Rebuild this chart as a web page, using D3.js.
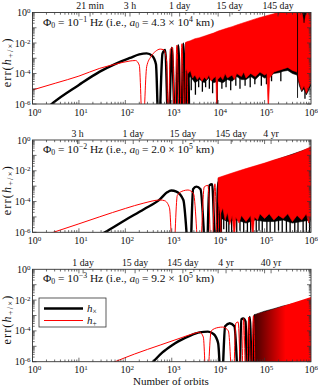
<!DOCTYPE html>
<html><head><meta charset="utf-8">
<script src="https://cdn.jsdelivr.net/npm/d3@7"></script>
<style>
html,body{margin:0;padding:0;background:#fff;}
svg text{font-family:"Liberation Serif","DejaVu Serif",serif;fill:#111;}
</style></head>
<body><svg id="c" width="318" height="387"></svg>
<script>
// ---------- DATA (log10 values) ----------
const xTickExps = [0,1,2,3,4,5,6];
const yTickExps = [0,-2,-4,-6];
const freqExps = [-1,-2,-3];
const a0Mant = ["4.3","2.0","9.2"];
const a0Exps = [4,5,5];

const topLabels1 = ["21 min","3 h","1 day","15 day","145 day"];
const topPos1 = [1.24,2.10,3.17,4.25,5.29];
const topLabels2 = ["3 h","1 day","15 day","145 day","4 yr"];
const topPos2 = [0.97,2.17,3.24,4.28,5.14];
const topLabels3 = ["1 day","15 day","145 day","4 yr","40 yr"];
const topPos3 = [1.09,2.21,3.24,4.17,5.14];

// Panel 1 (Phi0 = 1e-1 Hz)
const black1 = [[0.30,-6.3],[0.44,-5.93],[1.0,-4.75],[1.45,-3.88],[1.8,-3.35],[2.1,-2.98],[2.3,-2.75],[2.46,-2.68],[2.58,-2.85],[2.66,-3.4],[2.72,-8],
 [2.8,-2.7],[2.86,-2.45],[2.93,-8],[3.0,-2.3],[3.08,-8],[3.14,-2.15],[3.2,-8],[3.25,-2.05],[3.3,-8],[3.34,-2.0],[3.38,-8]];
const red1 = [[0,-5.08],[0.5,-4.63],[1.0,-4.17],[1.45,-3.66],[1.8,-3.38],[2.1,-3.18],[2.22,-3.15],[2.3,-3.45],[2.375,-8],[2.46,-3.55],[2.55,-2.9],[2.65,-2.55],[2.75,-2.4],[2.83,-2.45],[2.89,-3.2],[2.92,-8],
 [2.97,-2.4],[3.02,-2.3],[3.06,-8],[3.11,-2.15],[3.17,-8],[3.22,-2.05],[3.27,-8],[3.31,-1.98],[3.35,-8]];
const red1Top = [[3.3,-1.95],[3.4,-1.85],[3.5,-1.72],[3.6,-1.65],[3.7,-1.55],[3.8,-1.45],[3.9,-1.35],[4.0,-1.22],[4.1,-1.12],[4.2,-1.02],[4.3,-0.93],[4.4,-0.82],[4.5,-0.72],[4.6,-0.62],[4.7,-0.52],[4.8,-0.42],[4.9,-0.33],[5.0,-0.25],[5.1,-0.16],[5.2,-0.08],[5.29,0],[5.4,0.1],[5.79,0.2],[5.85,-0.68],[5.92,0.2],[6.0,0.2]];
const red1Bot = [[3.3,-3.6],[3.35,-4.0],[3.4,-3.8],[3.45,-4.3],[3.5,-4.1],[3.55,-4.4],[3.6,-4.2],[3.65,-4.5],[3.7,-4.25],[3.75,-4.4],[3.8,-4.1],[3.85,-4.5],[3.9,-4.3],[3.95,-4.2],[3.97,-6.5],[3.99,-4.4],[4.05,-4.2],[4.1,-4.4],[4.15,-4.0],[4.2,-4.3],[4.3,-4.1],[4.35,-4.4],[4.4,-4.0],[4.5,-4.2],[4.55,-3.9],[4.6,-4.3],[4.7,-4.0],[4.8,-4.2],[4.9,-3.9],[5.0,-4.1],[5.05,-4.0],[5.08,-6.5],[5.11,-4.3],[5.2,-3.9],[5.3,-3.8],[5.4,-3.7],[5.5,-3.6],[5.6,-3.8],[5.7,-3.9],[5.75,-4.6],[5.8,-5.1],[5.85,-4.8],[5.9,-5.3],[5.95,-4.9],[6.0,-4.6]];
const black1Top = [[3.3,-2.0],[4.0,-1.3],[5.0,-0.35],[5.4,0.1],[6.0,0.2]];
const black1Bot = [[3.3,-4.4],[3.4,-4.2],[3.5,-4.6],[3.6,-4.4],[3.7,-4.6],[3.8,-4.3],[3.9,-4.6],[4.0,-4.5],[4.1,-4.6],[4.2,-4.4],[4.3,-4.5],[4.4,-4.2],[4.5,-4.4],[4.6,-4.4],[4.7,-4.2],[4.8,-4.4],[4.9,-4.1],[5.0,-4.3],[5.1,-4.2],[5.2,-4.0],[5.3,-3.95],[5.4,-3.85],[5.5,-3.8],[5.6,-4.0],[5.7,-4.1],[5.75,-4.8],[5.8,-5.2],[5.85,-5.0],[5.9,-5.4],[5.95,-5.1],[6.0,-4.8]];
const black1Spikes = [[3.42,-4.0,-5.1],[3.51,-4.2,-5.4],[3.58,-4.2,-4.9],[3.66,-4.3,-5.2],[3.73,-4.3,-4.9],[3.81,-4.2,-5.0],[3.88,-4.3,-5.3],[3.98,-4.3,-6.5],[4.08,-4.3,-5.0],[4.17,-4.2,-4.9],[4.27,-4.2,-5.1],[4.38,-4.2,-4.8],[4.47,-4.2,-5.0],[4.58,-4.2,-4.8],[4.69,-4.1,-4.9],[4.79,-4.1,-4.7],[4.93,-4.0,-4.8],[5.04,-4.0,-4.7],[5.15,-3.9,-4.5],[5.35,-3.8,-4.5],[5.71,0.2,-5.6],[5.85,-0.68,-0.1],[5.87,-5.0,-5.65]];

// Panel 2 (Phi0 = 1e-2 Hz)
const black2 = [[1.5,-6.1],[1.56,-6.0],[2.0,-5.2],[2.4,-4.5],[2.75,-3.84],[2.9,-3.4],[2.99,-3.28],[3.1,-3.35],[3.25,-3.9],[3.39,-8],[3.46,-3.2],[3.53,-3.03],[3.62,-3.2],[3.75,-8],[3.81,-2.95],[3.87,-2.88],[3.95,-8],[4.0,-2.75],[4.05,-8]];
const red2 = [[0.3,-6.15],[0.45,-6.0],[1.0,-5.45],[1.45,-4.99],[2.0,-4.45],[2.4,-4.1],[2.75,-3.9],[2.85,-3.95],[2.95,-4.4],[3.03,-8],[3.12,-3.6],[3.25,-3.3],[3.35,-3.25],[3.47,-3.5],[3.6,-8],[3.7,-3.05],[3.78,-2.95],[3.86,-8],[3.93,-2.85],[3.99,-8],[4.03,-2.7],[4.07,-8]];
const red2Top = [[4.0,-2.45],[4.2,-2.25],[4.4,-2.05],[4.6,-1.86],[4.8,-1.68],[5.0,-1.5],[5.2,-1.3],[5.4,-1.12],[5.6,-0.95],[5.8,-0.72],[6.0,-0.44]];
const red2Bot = [[4.0,-4.0],[4.05,-4.8],[4.1,-4.4],[4.15,-5.2],[4.2,-4.7],[4.25,-5.5],[4.3,-4.9],[4.35,-6.5],[4.38,-5.0],[4.45,-5.4],[4.5,-4.9],[4.6,-5.3],[4.7,-4.9],[4.75,-6.5],[4.78,-5.0],[4.85,-5.2],[4.9,-4.8],[5.0,-5.1],[5.1,-4.8],[5.2,-5.2],[5.3,-4.9],[5.4,-5.1],[5.5,-4.8],[5.6,-5.3],[5.7,-4.9],[5.8,-5.2],[5.9,-4.8],[5.95,-5.4],[6.0,-5.0]];
const black2Top = [[4.0,-2.5],[5.0,-1.55],[6.0,-0.5]];
const black2Bot = [[4.0,-5.0],[4.2,-5.3],[4.4,-5.2],[4.6,-5.4],[4.8,-5.2],[5.0,-5.3],[5.2,-5.3],[5.4,-5.2],[5.6,-5.4],[5.8,-5.3],[6.0,-5.2]];
const black2Spikes = [[4.07,-5,-6.5],[4.12,-5,-5.8],[4.18,-5,-6.5],[4.23,-5,-6.0],[4.29,-5,-6.5],[4.4,-5,-6.5],[4.47,-5,-5.9],[4.55,-5,-6.5],[4.63,-5,-6.1],[4.7,-5,-6.5],[4.82,-5,-6.5],[4.88,-5,-5.9],[4.95,-5,-6.5],[5.05,-5,-6.0],[5.12,-5,-6.5],[5.22,-5,-6.5],[5.3,-5,-5.9],[5.38,-5,-6.5],[5.47,-5,-6.1],[5.55,-5,-6.5],[5.65,-5,-6.0],[5.72,-5,-6.5],[5.83,-5,-6.5],[5.9,-5,-6.0],[5.97,-5,-6.5]];

// Panel 3 (Phi0 = 1e-3 Hz)
const black3 = [[2.5,-6.3],[2.6,-6.0],[2.8,-5.4],[3.0,-4.95],[3.14,-4.68],[3.4,-4.3],[3.6,-4.1],[3.78,-4.05],[3.9,-4.2],[4.0,-4.8],[4.07,-8],[4.15,-3.7],[4.25,-3.5],[4.35,-3.7],[4.45,-8],[4.5,-3.25],[4.54,-3.19],[4.59,-3.4],[4.63,-8],[4.68,-3.1],[4.74,-8],[4.78,-3.0],[4.81,-8]];
const red3 = [[1.7,-6.1],[1.78,-6.0],[2.2,-5.5],[2.75,-4.92],[3.2,-4.45],[3.5,-4.15],[3.6,-4.08],[3.68,-4.4],[3.75,-8],[3.85,-4.0],[4.0,-3.78],[4.1,-3.75],[4.22,-4.0],[4.32,-8],[4.38,-3.5],[4.43,-3.42],[4.5,-8],[4.55,-3.2],[4.6,-8],[4.66,-3.1],[4.71,-8],[4.76,-3.02],[4.8,-8]];
const band3Top = [[4.78,-3.0],[4.86,-2.86],[5.0,-2.75],[5.2,-2.58],[5.4,-2.38],[5.58,-2.21],[5.8,-2.0],[6.0,-1.8]];
const band3Bot = [[4.78,-7],[6.0,-7]];
const black3Top = [[4.78,-2.95],[5.0,-2.72],[5.2,-2.56],[5.4,-2.38],[5.6,-2.25]];
const black3Bot = [[4.78,-7],[5.6,-7]];

const legendLabels = ["×","+"];

// ---------- DRAW ----------
const svg = d3.select("#c");
const X0 = 32.5, X1 = 311;
const panels = [
 {top:12.5, bot:104, k:black1, r:red1, rt:red1Top, rb:red1Bot, kt:black1Top, kb:black1Bot, spikes:black1Spikes, tl:topLabels1, tp:topPos1},
 {top:140, bot:232.3, k:black2, r:red2, rt:red2Top, rb:red2Bot, kt:black2Top, kb:black2Bot, spikes:black2Spikes, tl:topLabels2, tp:topPos2},
 {top:269.3, bot:361.7, k:black3, r:red3, rt:band3Top, rb:band3Bot, kt:black3Top, kb:black3Bot, spikes:[], tl:topLabels3, tp:topPos3, grad:true}
];
const x = d3.scaleLog().domain([1,1e6]).range([X0,X1]);
const defs = svg.append("defs");

function sup(t, base, exp, size){
  t.append("tspan").text(base);
  t.append("tspan").attr("baseline-shift","45%").attr("font-size",size).text(exp);
}

panels.forEach((p,i)=>{
  const y = d3.scaleLog().domain([1e-6,1]).range([p.bot,p.top]);
  const P = d => [x(Math.pow(10,d[0])), y(Math.pow(10,d[1]))];
  const cid = "clip"+i;
  defs.append("clipPath").attr("id",cid).append("rect")
    .attr("x",X0).attr("y",p.top).attr("width",X1-X0).attr("height",p.bot-p.top);
  const g = svg.append("g");
  const pg = g.append("g").attr("clip-path",`url(#${cid})`);
  const line = d3.line().x(d=>P(d)[0]).y(d=>P(d)[1]).curve(d3.curveMonotoneX);
  const poly = d3.line().x(d=>P(d)[0]).y(d=>P(d)[1]);
  const band = (top,bot) => poly(top.concat(bot.slice().reverse()))+"Z";

  // black
  pg.append("path").attr("d",line(p.k)).attr("fill","none").attr("stroke","#000").attr("stroke-width",2.4);
  pg.append("path").attr("d",band(p.kt,p.kb)).attr("fill","#000").attr("stroke","#000").attr("stroke-width",0.6);
  p.spikes.filter(s=>s[1]<-3).forEach(s=>{
    pg.append("line").attr("x1",x(Math.pow(10,s[0]))).attr("x2",x(Math.pow(10,s[0])))
      .attr("y1",y(Math.pow(10,s[1]))).attr("y2",y(Math.pow(10,s[2]))).attr("stroke","#000").attr("stroke-width",1.3);
  });
  // red
  pg.append("path").attr("d",line(p.r)).attr("fill","none").attr("stroke","#f00").attr("stroke-width",1);
  let fill = "#f00";
  if(p.grad){
    const gr = defs.append("linearGradient").attr("id","g"+i).attr("gradientUnits","userSpaceOnUse")
      .attr("x1",x(Math.pow(10,4.8))).attr("x2",x(Math.pow(10,5.45))).attr("y1",0).attr("y2",0);
    gr.append("stop").attr("offset",0).attr("stop-color","#f00").attr("stop-opacity",0.3);
    gr.append("stop").attr("offset",1).attr("stop-color","#f00").attr("stop-opacity",1);
    fill = `url(#g${i})`;
  }
  pg.append("path").attr("d",band(p.rt,p.rb)).attr("fill",fill).attr("stroke",p.grad?"none":"#f00").attr("stroke-width",0.6);
  p.spikes.filter(s=>s[1]>=-3).forEach(s=>{
    pg.append("line").attr("x1",x(Math.pow(10,s[0]))).attr("x2",x(Math.pow(10,s[0])))
      .attr("y1",y(Math.pow(10,s[1]))).attr("y2",y(Math.pow(10,s[2]))).attr("stroke","#000").attr("stroke-width",0.9);
  });

  // ticks
  const tg = g.append("g").attr("stroke","#333").attr("stroke-width",0.7);
  for(let e=0;e<6;e++){
    for(let m=1;m<10;m++){
      const xv = x(m*Math.pow(10,e)); const L = m===1?4:2.2;
      tg.append("line").attr("x1",xv).attr("x2",xv).attr("y1",p.bot).attr("y2",p.bot-L);
      tg.append("line").attr("x1",xv).attr("x2",xv).attr("y1",p.top).attr("y2",p.top+L);
    }
  }
  for(let e=-6;e<0;e++){
    for(let m=1;m<10;m++){
      const yv = y(m*Math.pow(10,e)); const L = m===1?4:2.2;
      tg.append("line").attr("x1",X0).attr("x2",X0+L).attr("y1",yv).attr("y2",yv);
      tg.append("line").attr("x1",X1).attr("x2",X1-L).attr("y1",yv).attr("y2",yv);
    }
  }
  p.tp.forEach(v=>{
    const xv = x(Math.pow(10,v));
    tg.append("line").attr("x1",xv).attr("x2",xv).attr("y1",p.top).attr("y2",p.top+4);
  });
  g.append("rect").attr("x",X0).attr("y",p.top).attr("width",X1-X0).attr("height",p.bot-p.top)
    .attr("fill","none").attr("stroke","#333").attr("stroke-width",0.9);

  // tick labels
  xTickExps.forEach((e,k)=>{
    const last = k===xTickExps.length-1;
    const t = g.append("text").attr("x",last?318:x(Math.pow(10,e))+2).attr("y",p.bot+11.5)
      .attr("text-anchor",last?"end":"middle").attr("font-size",10);
    sup(t,"10",String(e),7);
  });
  yTickExps.forEach(e=>{
    const t = g.append("text").attr("x",X0-2).attr("y",y(Math.pow(10,e))+3.5).attr("text-anchor","end").attr("font-size",10);
    sup(t,"10",String(e),7);
  });
  p.tl.forEach((s,j)=>{
    g.append("text").attr("x",x(Math.pow(10,p.tp[j]))).attr("y",p.top-3.5).attr("text-anchor","middle").attr("font-size",9.8).text(s);
  });

  // annotation
  const a = g.append("text").attr("x",43).attr("y",p.top+13).attr("font-size",11.4);
  a.append("tspan").text("Φ");
  a.append("tspan").attr("baseline-shift","-25%").attr("font-size",7.8).text("0");
  a.append("tspan").text(" = 10");
  a.append("tspan").attr("baseline-shift","45%").attr("font-size",7.8).text("−"+String(-freqExps[i]));
  a.append("tspan").text(" Hz (i.e., ");
  a.append("tspan").attr("font-style","italic").text("a");
  a.append("tspan").attr("baseline-shift","-25%").attr("font-size",7.8).text("0");
  a.append("tspan").text(" = "+a0Mant[i]+" × 10");
  a.append("tspan").attr("baseline-shift","45%").attr("font-size",7.8).text(String(a0Exps[i]));
  a.append("tspan").text(" km)");

  // y label
  const yl = g.append("text").attr("transform",`translate(10.5,${(p.top+p.bot)/2+4}) rotate(-90)`).attr("text-anchor","middle").attr("font-size",12)
    .attr("letter-spacing",1.2);
  yl.append("tspan").text("err(");
  yl.append("tspan").attr("font-style","italic").text("h");
  yl.append("tspan").attr("baseline-shift","-25%").attr("font-size",8.5).text("+/×");
  yl.append("tspan").text(")");

  if(i===2){
    const lg = g.append("g");
    lg.append("rect").attr("x",39).attr("y",298).attr("width",67).attr("height",29).attr("fill","#fff").attr("stroke","#333").attr("stroke-width",0.8);
    lg.append("line").attr("x1",44).attr("x2",83).attr("y1",308.5).attr("y2",308.5).attr("stroke","#000").attr("stroke-width",2.4);
    lg.append("line").attr("x1",44).attr("x2",83).attr("y1",320.5).attr("y2",320.5).attr("stroke","#f00").attr("stroke-width",1);
    [308.5,320.5].forEach((yy,j)=>{
      const t = lg.append("text").attr("x",87).attr("y",yy+3).attr("font-size",11);
      t.append("tspan").attr("font-style","italic").text("h");
      t.append("tspan").attr("baseline-shift","-25%").attr("font-size",7.5).text(legendLabels[j]);
    });
    g.append("text").attr("x",171).attr("y",385).attr("text-anchor","middle").attr("font-size",11).text("Number of orbits");
  }
});
</script></body></html>
